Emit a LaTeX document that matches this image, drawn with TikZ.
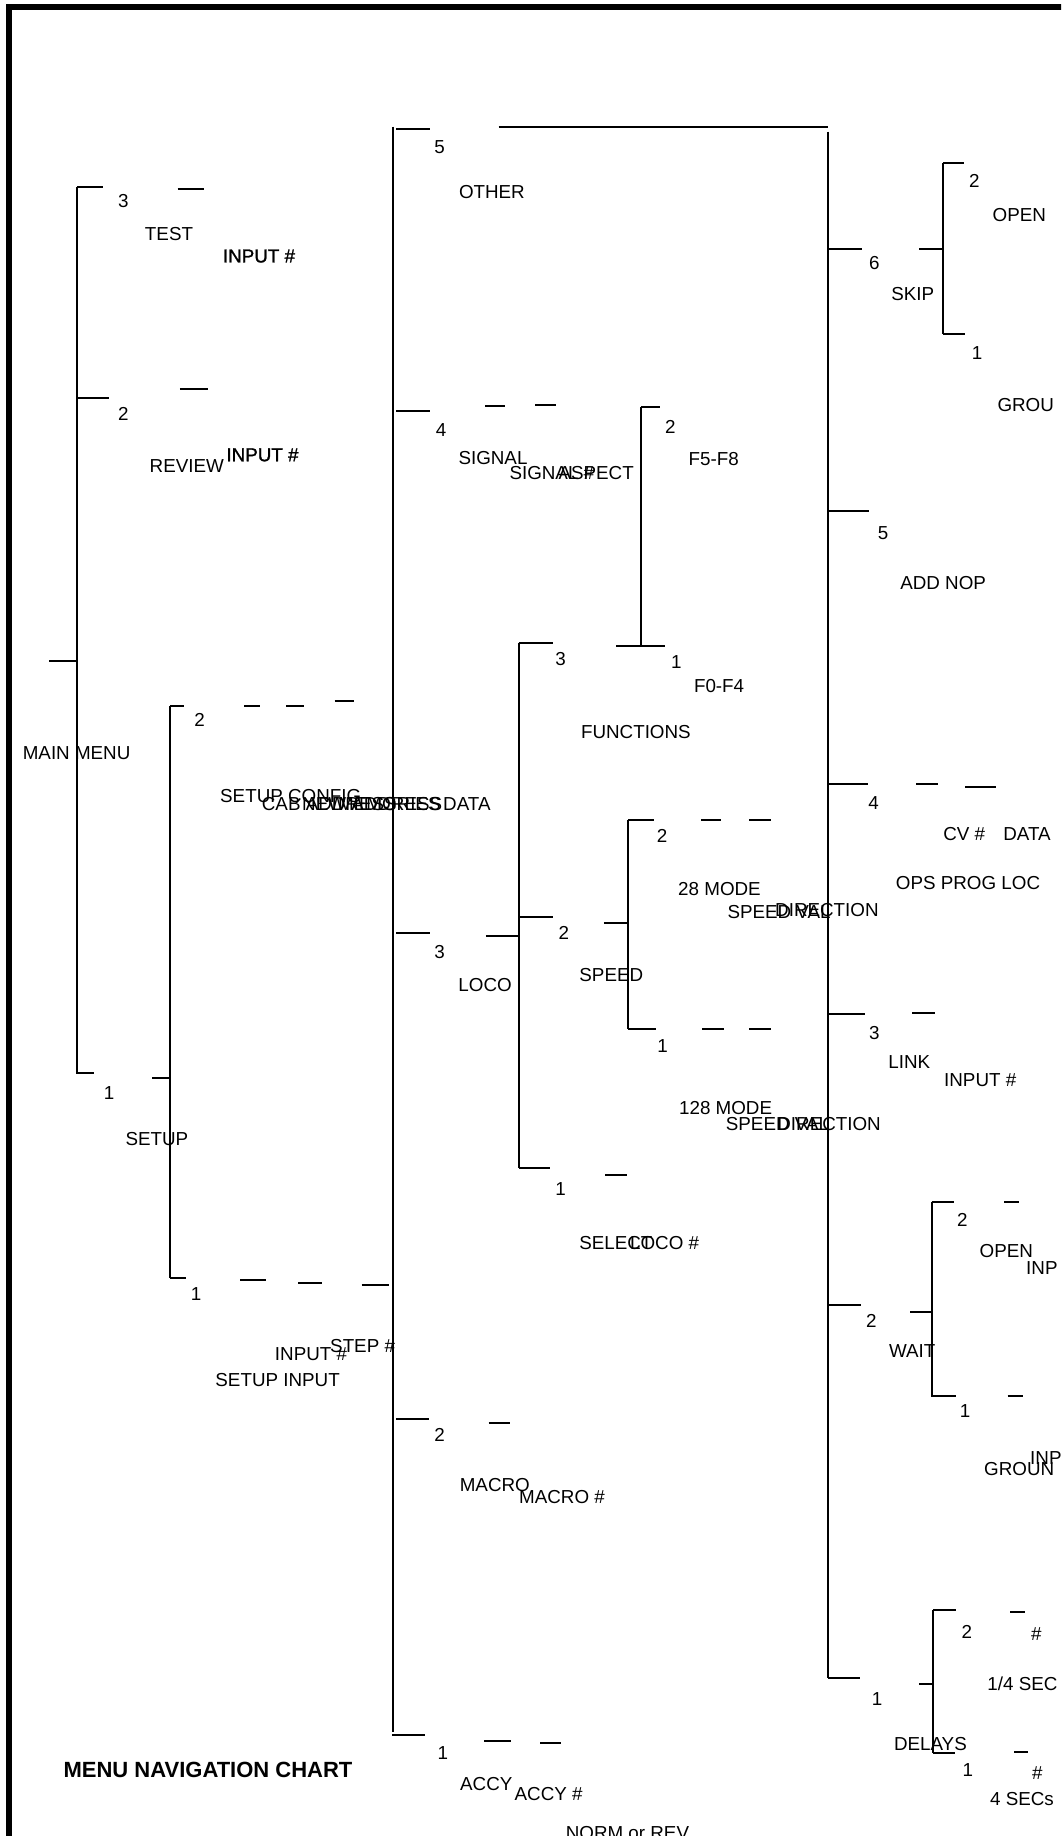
\documentclass[tikz,border=0pt]{standalone}
\usepackage{fontspec}
\setmainfont{Liberation Sans}
\newfontfamily\heavyish[FakeBold=1.2]{Liberation Sans}
\begin{document}
\begin{tikzpicture}[x=1pt,y=-1pt,
  lbl/.style={inner sep=0pt,text height=13.5pt,text depth=0pt,font=\fontsize{18.8}{20}\selectfont},
  lblh/.style={lbl,font=\heavyish\fontsize{18.8}{20}\selectfont},
  ttl/.style={inner sep=0pt,text height=16pt,text depth=0pt,font=\bfseries\fontsize{22}{24}\selectfont},
  ln/.style={line width=2pt},
  frameline/.style={line width=6.5pt,line join=miter}]
\useasboundingbox (0,0) rectangle (1061,1836);
\fill[white] (0,0) rectangle (1061,1836);
\clip (0,0) rectangle (1061,1836);
% frame
\draw[frameline] (9,1840) -- (9,7) -- (1065,7);

% ---------------- level 1 : MAIN MENU
\draw[ln] (49.4,661.4) -- (77.1,661.4);
\draw[ln] (77.1,186.7) -- (77.1,1074.3);
\draw[ln] (77.1,186.7) -- (103.1,186.7);
\draw[ln] (77.1,397.7) -- (108.9,397.7);
\draw[ln] (77.1,1073.3) -- (94,1073.3);
\draw[ln] (177.5,188.7) -- (203.9,188.7);
\draw[ln] (179.9,389.3) -- (207.9,389.3);
\node[lbl] (mm) at (76.6,752.7) {MAIN MENU};
\node[lbl] (n3a) at (123.4,200.7) {3};
\node[lbl] (test) at (169,233.3) {TEST};
\node[lblh] (testin) at (259,255.7) {INPUT \#};
\node[lbl] (n2a) at (123.4,413.3) {2};
\node[lbl] (review) at (186.8,465.4) {REVIEW};
\node[lblh] (revin) at (262.5,454.5) {INPUT \#};
\node[lbl] (n1a) at (109.2,1092.3) {1};
\node[lbl] (setup) at (156.9,1138.3) {SETUP};

% ---------------- SETUP subtree
\draw[ln] (152.1,1077.7) -- (170.4,1077.7);
\draw[ln] (170.4,706) -- (170.4,1278.3);
\draw[ln] (170.4,706) -- (183.6,706);
\draw[ln] (244.1,706) -- (260.3,706);
\draw[ln] (286.3,706) -- (303.6,706);
\draw[ln] (334.7,701.3) -- (354,701.3);
\node[lbl] (n2b) at (199.5,719.6) {2};
\node[lbl,anchor=west] (sconf) at (220,796) {SETUP CONFIG};
\node[lbl,anchor=west] (cabad) at (261.7,803.3) {CAB ADDRESS};
\node[lbl,anchor=west] (newad) at (302,803.3) {NEW ADDRESS};
\node[lbl,anchor=west] (memo) at (338,803.3) {MEMORIES};
\node[lbl,anchor=west] (sdata) at (443,803.3) {DATA};
\draw[ln] (170.4,1278.3) -- (186.3,1278.3);
\draw[ln] (240,1280.3) -- (266.1,1280.3);
\draw[ln] (298.2,1283.3) -- (322.2,1283.3);
\draw[ln] (361.7,1285) -- (388.8,1285);
\node[lbl] (n1b) at (196.1,1293.3) {1};
\node[lbl] (stepn) at (362.6,1346) {STEP \#};
\node[lbl] (sinn) at (311,1353.3) {INPUT \#};
\node[lbl] (sinput) at (277.6,1379.3) {SETUP INPUT};

% ---------------- level 2 main column
\draw[ln] (392.8,126.7) -- (392.8,1731.7);
\draw[ln] (396.2,128.7) -- (430,128.7);
\draw[ln] (498.6,126.7) -- (828,126.7);
\node[lbl] (n5a) at (439.5,146.7) {5};
\node[lbl] (other) at (491.9,191.7) {OTHER};

% 4 SIGNAL
\draw[ln] (396.2,411) -- (430,411);
\draw[ln] (485.1,405.7) -- (505.4,405.7);
\draw[ln] (535,405) -- (556,405);
\node[lbl] (n4a) at (441,429.3) {4};
\node[lbl] (signal) at (493,457.3) {SIGNAL};
\node[lbl,anchor=west] (signum) at (509.3,472.7) {SIGNAL \#};
\node[lbl,anchor=east] (aspect) at (634,472.7) {ASPECT};

% 3 LOCO
\draw[ln] (396.2,933.3) -- (430,933.3);
\node[lbl] (n3b) at (439.5,951.7) {3};
\node[lbl] (loco) at (485.1,984.3) {LOCO};
\draw[ln] (485.8,936) -- (518.7,936);
\draw[ln] (518.7,643.3) -- (518.7,1168.3);
% functions
\draw[ln] (518.7,643.3) -- (553,643.3);
\node[lbl] (n3c) at (560.5,659) {3};
\node[lbl] (funcs) at (635.9,731.7) {FUNCTIONS};
\draw[ln] (641,407.3) -- (641,646);
\draw[ln] (641,407.3) -- (659.5,407.3);
\draw[ln] (616.4,646) -- (664.8,646);
\node[lbl] (n2c) at (670.3,426.7) {2};
\node[lbl] (f58) at (713.8,458.3) {F5-F8};
\node[lbl] (n1c) at (676.3,661.7) {1};
\node[lbl] (f04) at (719.1,686) {F0-F4};
% speed
\draw[ln] (518.7,917.3) -- (553,917.3);
\node[lbl] (n2d) at (563.9,932.3) {2};
\node[lbl] (speed) at (611.3,974.3) {SPEED};
\draw[ln] (603.8,923.3) -- (628.2,923.3);
\draw[ln] (628.2,820) -- (628.2,1029);
\draw[ln] (628.2,820) -- (653.6,820);
\draw[ln] (701,820) -- (721.3,820);
\draw[ln] (749.4,820) -- (771.1,820);
\node[lbl] (n2e) at (662.1,835.7) {2};
\node[lbl] (m28) at (719.5,889) {28 MODE};
\node[lbl,anchor=west] (sv28) at (727.3,911.7) {SPEED VAL};
\node[lbl,anchor=west] (dir28) at (775,909.3) {DIRECTION};
\draw[ln] (628.2,1029) -- (656,1029);
\draw[ln] (702,1029) -- (723.7,1029);
\draw[ln] (749.4,1029) -- (771.1,1029);
\node[lbl] (n1e) at (662.7,1046) {1};
\node[lbl] (m128) at (725.6,1107.7) {128 MODE};
\node[lbl,anchor=west] (sv128) at (725.7,1123.3) {SPEED VAL};
\node[lbl,anchor=west] (dir128) at (777.2,1123.3) {DIRECTION};
% select
\draw[ln] (518.7,1168.3) -- (549.6,1168.3);
\draw[ln] (605.2,1175) -- (626.5,1175);
\node[lbl] (n1f) at (560.5,1188.3) {1};
\node[lbl,anchor=west] (select) at (579.1,1242.3) {SELECT};
\node[lbl,anchor=east] (loconum) at (699.3,1242.3) {LOCO \#};

% 2 MACRO
\draw[ln] (396.2,1419.3) -- (429.3,1419.3);
\draw[ln] (488.5,1423.3) -- (509.8,1423.3);
\node[lbl] (n2f) at (439.5,1435) {2};
\node[lbl] (macro) at (494.8,1484.3) {MACRO};
\node[lbl,anchor=west] (macnum) at (519,1496.7) {MACRO \#};

% 1 ACCY
\draw[ln] (392.2,1735) -- (425,1735);
\draw[ln] (484.1,1740.7) -- (511.2,1740.7);
\draw[ln] (540.2,1743.3) -- (561.2,1743.3);
\node[lbl] (n1g) at (442.9,1752.7) {1};
\node[lbl] (accy) at (486.3,1783.3) {ACCY};
\node[lbl,anchor=west] (accynum) at (514.5,1794) {ACCY \#};
\node[lbl,anchor=west] (norm) at (565.6,1833) {NORM or REV};

\node[ttl] (title) at (208,1769) {MENU NAVIGATION CHART};

% ---------------- right column (OTHER)
\draw[ln] (828,131.7) -- (828,1678.3);
% 6 SKIP
\draw[ln] (828,249.3) -- (861.9,249.3);
\node[lbl] (n6) at (874.4,262.7) {6};
\node[lbl] (skip) at (912.7,293.3) {SKIP};
\draw[ln] (919.4,249.3) -- (943.1,249.3);
\draw[ln] (943.1,163.3) -- (943.1,334.3);
\draw[ln] (943.1,163.3) -- (963.5,163.3);
\draw[ln] (943.1,334.3) -- (965.1,334.3);
\node[lbl] (n2g) at (974.3,180.7) {2};
\node[lbl] (open1) at (1019.3,215) {OPEN};
\node[lbl] (n1h) at (977,352.3) {1};
\node[lbl,anchor=west] (grou) at (997.3,405) {GROU};
% 5 ADD NOP
\draw[ln] (828,510.7) -- (869.3,510.7);
\node[lbl] (n5b) at (883.2,532.7) {5};
\node[lbl] (addnop) at (943.1,582.3) {ADD NOP};
% 4 OPS PROG LOC
\draw[ln] (828,784.3) -- (868,784.3);
\draw[ln] (916,784.3) -- (938.4,784.3);
\draw[ln] (965.2,786.7) -- (995.6,786.7);
\node[lbl] (n4b) at (873.7,802.3) {4};
\node[lbl,anchor=west] (cvnum) at (943.1,833.3) {CV \#};
\node[lbl,anchor=west] (cvdata) at (1003.1,833.3) {DATA};
\node[lbl] (ops) at (968,882.3) {OPS PROG LOC};
% 3 LINK
\draw[ln] (828,1014.3) -- (865.3,1014.3);
\draw[ln] (912.3,1012.7) -- (935,1012.7);
\node[lbl] (n3d) at (874.4,1032.7) {3};
\node[lbl] (link) at (909.3,1061.7) {LINK};
\node[lbl] (linkin) at (980.2,1080) {INPUT \#};
% 2 WAIT
\draw[ln] (828,1305) -- (861.2,1305);
\node[lbl] (n2h) at (871.3,1320.7) {2};
\node[lbl] (wait) at (912.2,1351) {WAIT};
\draw[ln] (910.3,1311.7) -- (931.5,1311.7);
\draw[ln] (931.5,1201.7) -- (931.5,1397);
\draw[ln] (931.5,1201.7) -- (954.3,1201.7);
\draw[ln] (1004.2,1201.7) -- (1019.3,1201.7);
\node[lbl] (n2i) at (962.4,1220) {2};
\node[lbl] (open2) at (1006.3,1250.3) {OPEN};
\node[lbl,anchor=west] (inp1) at (1026,1267.3) {INP};
\draw[ln] (931.5,1396) -- (956,1396);
\draw[ln] (1007.7,1396) -- (1022.7,1396);
\node[lbl] (n1i) at (965,1410.7) {1};
\node[lbl,anchor=west] (inp2) at (1030,1457.7) {INP};
\node[lbl,anchor=west] (groun) at (984,1468.3) {GROUN};
% 1 DELAYS
\draw[ln] (828,1678.3) -- (860.2,1678.3);
\node[lbl] (n1j) at (877.1,1698.3) {1};
\node[lbl] (delays) at (930.4,1743.3) {DELAYS};
\draw[ln] (919.4,1684.3) -- (933,1684.3);
\draw[ln] (933,1610) -- (933,1752.7);
\draw[ln] (933,1610) -- (956,1610);
\draw[ln] (1010.2,1611.7) -- (1025.1,1611.7);
\node[lbl] (n2j) at (966.8,1631.7) {2};
\node[lbl] (hash1) at (1036.3,1633.3) {\#};
\node[lbl,anchor=west] (qsec) at (987.2,1683.3) {1/4 SEC};
\draw[ln] (933,1752.7) -- (955,1752.7);
\draw[ln] (1014.3,1751.7) -- (1027.8,1751.7);
\node[lbl] (n1k) at (967.9,1770) {1};
\node[lbl] (hash2) at (1037.3,1772.3) {\#};
\node[lbl,anchor=west] (fsec) at (989.9,1798.3) {4 SECs};
\end{tikzpicture}
\end{document}
